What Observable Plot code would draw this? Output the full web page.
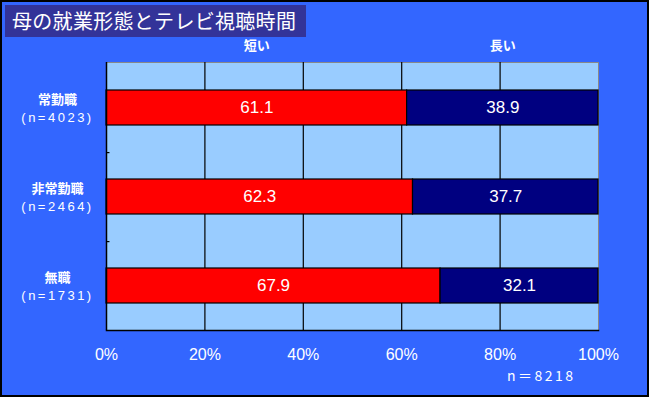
<!DOCTYPE html>
<html><head><meta charset="utf-8">
<script src="https://cdn.jsdelivr.net/npm/d3@7"></script>
<script src="https://cdn.jsdelivr.net/npm/@observablehq/plot@0.6"></script>
<style>
html,body{margin:0;padding:0;background:#3366FF;}
#wrap{position:relative;width:649px;height:397px;overflow:hidden;background:#3366FF;font-family:"Noto Sans CJK JP","Noto Sans",sans-serif;}
#title{position:absolute;left:5px;top:5px;width:301px;height:32px;background:#333399;color:#fff;font-size:20px;line-height:32px;padding-left:7px;box-sizing:border-box;white-space:nowrap;letter-spacing:0.3px;}
#note{position:absolute;left:507px;top:367px;color:#fff;font-size:14px;letter-spacing:2.5px;font-family:"Noto Sans CJK JP",sans-serif;line-height:16px;}
#border{position:absolute;left:0;top:0;width:649px;height:397px;box-sizing:border-box;border:2px solid #000;pointer-events:none;}
</style></head>
<body><div id="wrap"><div id="chart"></div><div id="title">母の就業形態とテレビ視聴時間</div><div id="note">n＝8218</div><div id="border"></div></div>
<script>
const categories = ["常勤職", "非常勤職", "無職"];
const counts = ["(n=4023)", "(n=2464)", "(n=1731)"];
const series = ["短い", "長い"];
const shortValues = [61.1, 62.3, 67.9];
const longValues = [38.9, 37.7, 32.1];
const xTicks = [0, 20, 40, 60, 80, 100];

const rows = [];
categories.forEach((c, i) => {
  rows.push({cat: c, series: series[0], value: shortValues[i]});
  rows.push({cat: c, series: series[1], value: longValues[i]});
});
const firstRow = rows.filter(d => d.cat === categories[0]);
const labelRows = categories.map((c, i) => ({cat: c, n: counts[i]}));
const sepRows = categories.slice(0, -1);

const chart = Plot.plot({
  width: 649, height: 397,
  marginLeft: 106, marginRight: 51, marginTop: 62, marginBottom: 67,
  style: {background: "transparent", color: "#fff", fontFamily: "'Liberation Sans', Arial, sans-serif"},
  x: {domain: [0, 100], ticks: xTicks, tickFormat: d => d + "%", tickSize: 0, tickPadding: 18, label: null},
  y: {domain: categories, paddingInner: 0.61, paddingOuter: 0.305, axis: null, label: null},
  color: {domain: series, range: ["#FF0000", "#000080"]},
  marks: [
    Plot.frame({fill: "#99CCFF", stroke: "#888"}),
    Plot.gridX({ticks: xTicks.slice(1, -1), stroke: "#000", strokeOpacity: 1, strokeWidth: 1.2}),
    Plot.barX(rows, Plot.stackX({x: "value", y: "cat", fill: "series", stroke: "#000", strokeWidth: 1.2, order: null})),
    Plot.text(rows, Plot.stackX({x: "value", y: "cat", z: "series", order: null, text: d => d.value.toFixed(1), fill: "#fff", fontSize: 17})),
    Plot.ruleX([0], {stroke: "#000", strokeWidth: 1.5}),
    Plot.frame({anchor: "bottom", stroke: "#000", strokeWidth: 1.5}),
    Plot.link(sepRows, {x1: 0, x2: 0.6, y1: d => d, y2: d => d, dy: 44.6, stroke: "#000", strokeWidth: 1.2}),
    Plot.text(labelRows, {x: 0, y: "cat", text: "cat", dx: -49, dy: -8, fill: "#fff", fontSize: 13, fontWeight: "bold", fontFamily: "'Noto Sans CJK JP', sans-serif"}),
    Plot.text(labelRows, {x: 0, y: "cat", text: "n", dx: -49, dy: 9.5, fill: "#fff", fontSize: 13, fontFamily: "'Liberation Sans', Arial, sans-serif"}),
    Plot.text(firstRow, Plot.stackX({x: "value", y: "cat", z: "series", order: null, text: "series", dy: -62, fill: "#fff", fontSize: 13, fontWeight: "bold", fontFamily: "'Noto Sans CJK JP', sans-serif"})),
    Plot.axisX({ticks: xTicks, tickFormat: d => d + "%", tickSize: 0, tickPadding: 18, fontSize: 16, label: null, fill: "#fff"})
  ]
});
d3.select(chart).selectAll("text").filter(function() { return counts.includes(this.textContent); })
  .style("letter-spacing", "2.5px");
document.getElementById("chart").appendChild(chart);
</script></body></html>
